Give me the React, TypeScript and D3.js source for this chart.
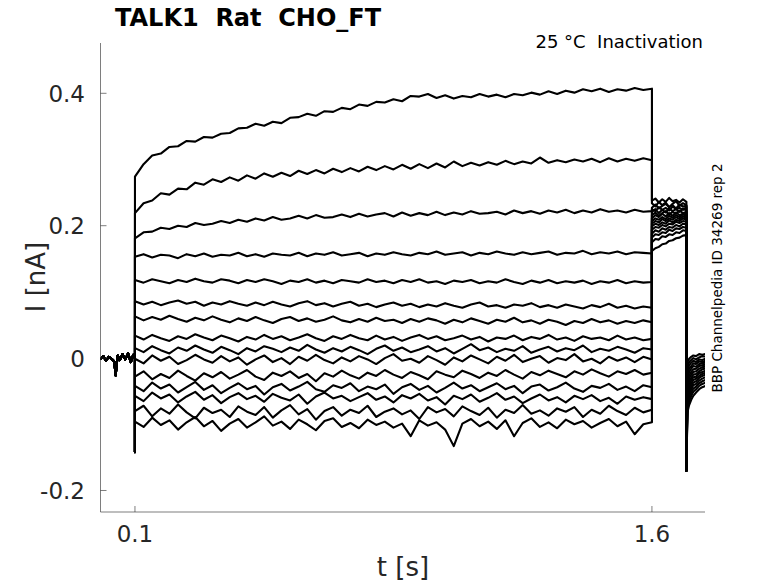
import { useEffect } from 'react';
import * as d3 from 'd3';

// all currents in pA, times in s
const preT = [0, 0.008, 0.016, 0.024, 0.032, 0.04, 0.044, 0.047, 0.05, 0.056, 0.064, 0.072, 0.08, 0.088, 0.095, 0.1];
const preI = [-2, 3, -4, 2, -1, -5, -26, -9, 4, -3, 6, -2, 7, -6, 5, 1];

const onsetDip = -142;
const offsetDip = -170;

const stepT = [
  0.1, 0.125, 0.15, 0.175, 0.2, 0.225, 0.25, 0.275, 0.3, 0.325,
  0.35, 0.375, 0.4, 0.425, 0.45, 0.475, 0.5, 0.525, 0.55, 0.575,
  0.6, 0.625, 0.65, 0.675, 0.7, 0.725, 0.75, 0.775, 0.8, 0.825,
  0.85, 0.875, 0.9, 0.925, 0.95, 0.975, 1.0, 1.025, 1.05, 1.075,
  1.1, 1.125, 1.15, 1.175, 1.2, 1.225, 1.25, 1.275, 1.3, 1.325,
  1.35, 1.375, 1.4, 1.425, 1.45, 1.475, 1.5, 1.525, 1.55, 1.575,
  1.6,
];

const stepI: number[][] = [
  [274, 293, 306, 309, 319, 320, 328, 327, 334, 333, 339, 340, 347, 348, 354, 351, 357, 355, 363, 364, 369, 366, 373, 372, 378, 376, 383, 381, 387, 386, 391, 388, 396, 395, 399, 393, 397, 392, 396, 394, 399, 395, 398, 394, 399, 397, 401, 398, 403, 399, 404, 401, 406, 403, 407, 402, 406, 404, 408, 405, 407],
  [219, 234, 238, 249, 247, 256, 255, 265, 262, 270, 266, 273, 268, 276, 271, 279, 274, 280, 275, 283, 278, 284, 279, 286, 281, 287, 282, 289, 284, 290, 285, 292, 286, 293, 287, 294, 288, 297, 290, 295, 291, 296, 292, 298, 293, 297, 294, 303, 295, 299, 296, 300, 297, 301, 296, 302, 297, 301, 298, 302, 299],
  [181, 190, 191, 197, 195, 200, 198, 204, 201, 203, 207, 204, 209, 206, 211, 208, 213, 209, 211, 215, 211, 216, 212, 213, 217, 213, 218, 214, 217, 219, 214, 220, 215, 219, 216, 221, 216, 220, 217, 222, 218, 219, 221, 217, 223, 219, 222, 218, 223, 220, 224, 219, 223, 220, 225, 221, 223, 220, 224, 221, 222],
  [153, 157, 152, 156, 155, 151, 157, 154, 158, 153, 156, 155, 159, 154, 157, 153, 158, 156, 155, 159, 154, 158, 156, 160, 155, 157, 159, 154, 158, 156, 160, 157, 155, 159, 157, 161, 156, 158, 160, 155, 159, 157, 161, 158, 156, 160, 157, 159, 161, 156, 159, 158, 162, 157, 160, 158, 161, 157, 160, 159, 158],
  [118, 114, 119, 116, 113, 118, 115, 120, 116, 114, 119, 117, 113, 118, 115, 119, 116, 112, 117, 115, 119, 114, 117, 113, 118, 116, 114, 119, 115, 117, 113, 118, 115, 119, 114, 116, 112, 117, 115, 118, 113, 116, 114, 119, 115, 112, 117, 114, 118, 113, 116, 114, 117, 112, 116, 114, 118, 113, 116, 114, 115],
  [86, 81, 85, 80, 84, 87, 82, 85, 79, 84, 81, 86, 82, 79, 84, 80, 85, 81, 78, 83, 86, 80, 83, 78, 82, 85, 79, 82, 77, 81, 84, 79, 82, 77, 81, 78, 83, 79, 76, 81, 84, 78, 80, 76, 81, 79, 83, 77, 80, 76, 81, 78, 75, 80, 77, 82, 76, 79, 75, 78, 76],
  [63, 57, 62, 58, 64, 59, 55, 61, 57, 63, 58, 54, 60, 56, 62, 57, 53, 59, 62, 56, 60, 55, 58, 63, 57, 54, 59, 55, 61, 56, 58, 53, 59, 55, 60, 57, 52, 58, 54, 60, 56, 52, 58, 55, 61, 54, 57, 52, 58, 55, 50, 56, 53, 59, 54, 57, 52, 56, 53, 57, 54],
  [34, 28, 35, 30, 26, 33, 29, 36, 31, 27, 34, 30, 25, 32, 28, 35, 29, 33, 27, 31, 36, 30, 26, 33, 29, 35, 30, 27, 34, 28, 32, 26, 31, 35, 29, 33, 27, 30, 34, 28, 32, 25, 31, 29, 34, 27, 32, 29, 35, 28, 31, 26, 33, 29, 31, 27, 34, 28, 31, 27, 29],
  [15, 9, 18, 12, 7, 16, 11, 19, 13, 8, 17, 12, 6, 15, 10, 18, 14, 9, 16, 11, 20, 13, 8, 15, 10, 17, 12, 6, 14, 19, 11, 16, 9, 13, 18, 10, 15, 7, 14, 21, 12, 16, 9, 14, 11, 18, 8, 13, 17, 10, 15, 12, 19, 9, 14, 11, 17, 13, 8, 15, 13],
  [-1, -8, 4, -4, 2, -9, -3, 5, -2, -7, 3, -5, 1, -10, -2, 4, -6, 0, -9, 2, -4, 5, -3, -8, 1, -5, 3, -2, -9, 0, 6, -4, -1, -7, 3, -3, -10, 1, -5, 4, -2, -8, 2, -4, 5, -6, -1, 3, -7, 0, -3, 6, -5, -1, -8, 2, -4, 1, -6, 2, -2],
  [-28, -20, -32, -24, -30, -19, -27, -34, -23, -29, -21, -31, -25, -18, -28, -33, -22, -27, -20, -30, -24, -35, -23, -28, -19, -26, -31, -22, -27, -18, -25, -30, -21, -26, -32, -20, -25, -29, -19, -24, -30, -22, -27, -18, -25, -31, -21, -26, -19, -24, -29, -20, -25, -17, -23, -28, -20, -24, -18, -25, -22],
  [-42, -50, -37, -46, -40, -52, -44, -36, -48, -41, -53, -45, -38, -47, -42, -55, -44, -39, -49, -43, -36, -47, -51, -41, -45, -38, -50, -43, -47, -40, -54, -44, -39, -48, -42, -52, -45, -37, -46, -41, -50, -44, -38, -47, -42, -53, -43, -40, -49, -44, -37, -46, -51, -42, -45, -39, -48, -43, -50, -41, -44],
  [-57, -65, -52, -61, -55, -67, -58, -51, -63, -56, -68, -59, -53, -62, -57, -66, -54, -60, -64, -55, -69, -58, -52, -61, -57, -65, -59, -53, -63, -58, -67, -56, -61, -54, -64, -59, -70, -57, -62, -55, -66, -60, -53, -63, -58, -68, -61, -55, -64, -59, -67, -57, -62, -56, -65, -60, -69, -58, -63, -59, -62],
  [-80, -72, -88, -76, -84, -70, -82, -91, -75, -83, -78, -89, -73, -81, -86, -74, -90, -79, -71, -85, -77, -93, -80, -74, -87, -78, -83, -72, -89, -81, -76, -85, -79, -92, -74, -82, -77, -88, -73, -80, -86, -75, -90, -78, -83, -71, -84, -79, -87, -76, -81, -74, -89, -78, -84, -72, -80, -86, -75, -82, -78],
  [-96, -104, -90, -101, -94, -108, -97, -89, -103, -95, -110, -99, -92, -105, -97, -88, -102, -96, -107, -93, -100, -109, -95, -91, -104, -98, -106, -93, -101, -96, -105, -99, -118, -94, -102, -97, -108, -133, -99, -92, -103, -96, -107, -94, -118, -98, -91, -104, -97, -106, -93, -100, -95, -105, -98, -92, -103, -96, -115, -100, -97],
];

const tailT = [1.6, 1.61, 1.62, 1.63, 1.64, 1.65, 1.66, 1.67, 1.68, 1.69, 1.7];
const tailI: number[][] = [
  [234, 229, 236, 231, 235, 228, 233, 237, 230, 234, 231],
  [238, 241, 235, 240, 236, 242, 237, 239, 235, 240, 236],
  [227, 232, 226, 230, 233, 228, 231, 226, 232, 229, 230],
  [225, 222, 228, 224, 227, 223, 229, 225, 227, 224, 228],
  [221, 225, 219, 224, 220, 226, 222, 225, 221, 226, 223],
  [216, 220, 215, 219, 222, 217, 221, 218, 223, 219, 221],
  [211, 216, 213, 218, 214, 219, 215, 220, 216, 218, 217],
  [207, 211, 209, 213, 210, 215, 212, 216, 213, 217, 214],
  [203, 207, 205, 210, 207, 211, 209, 213, 210, 214, 212],
  [199, 203, 201, 205, 203, 208, 205, 209, 207, 211, 209],
  [194, 198, 197, 201, 199, 203, 202, 206, 204, 207, 206],
  [188, 193, 191, 196, 194, 198, 197, 201, 199, 203, 202],
  [182, 187, 186, 190, 189, 194, 192, 196, 195, 198, 197],
  [175, 180, 179, 184, 183, 187, 186, 190, 189, 193, 192],
  [162, 166, 168, 172, 173, 177, 178, 181, 182, 185, 186],
];

const recT = [1.703, 1.708, 1.714, 1.72, 1.728, 1.737, 1.746, 1.76];
const recI: number[][] = [
  [-12, -6, -3, 0, -2, 1, 3, 2],
  [-6, -1, 2, 4, 3, 6, 5, 7],
  [-18, -11, -7, -4, -6, -2, -3, 0],
  [-24, -16, -12, -8, -9, -5, -6, -3],
  [-29, -21, -16, -12, -13, -9, -8, -6],
  [-34, -26, -21, -17, -16, -12, -11, -9],
  [-39, -31, -25, -21, -20, -16, -14, -12],
  [-44, -35, -30, -25, -24, -20, -17, -15],
  [-49, -40, -34, -29, -28, -23, -21, -18],
  [-54, -45, -38, -33, -31, -27, -24, -21],
  [-59, -49, -43, -37, -35, -30, -27, -24],
  [-64, -54, -47, -41, -39, -34, -31, -28],
  [-69, -59, -52, -46, -43, -38, -35, -32],
  [-75, -65, -57, -51, -47, -42, -39, -36],
  [-82, -71, -63, -57, -52, -47, -44, -41],
];

const xTicks = [0.1, 1.6];
const xTickLabels = ['0.1', '1.6'];
const yTicks = [-0.2, 0, 0.2, 0.4];
const yTickLabels = ['-0.2', '0', '0.2', '0.4'];

const W = 778;
const H = 583;
const plot = { left: 100.5, right: 705, top: 43, bottom: 512 };
const font = '"DejaVu Sans", sans-serif';
const axisColor = '#262626';

const App = () => {
  useEffect(() => {
    document.body.style.margin = '0';
  }, []);

  const x = d3.scaleLinear().domain([0, 1.754]).range([plot.left, plot.right]);
  const y = d3.scaleLinear().domain([-0.2325, 0.476]).range([plot.bottom, plot.top]);

  const line = d3.line<[number, number]>()
    .x(d => x(d[0]))
    .y(d => y(d[1] / 1000));

  // one sweep = holding, onset transient, step, tail, offset transient, recovery
  const traces = stepI.map((vals, k) => {
    const pts: [number, number][] = [];
    preT.forEach((t, i) => pts.push([t, preI[i]]));
    pts.push([0.1, onsetDip]);
    stepT.forEach((t, i) => pts.push([t, vals[i]]));
    tailT.forEach((t, i) => pts.push([t, tailI[k][i]]));
    pts.push([1.7, offsetDip]);
    recT.forEach((t, i) => pts.push([t, recI[k][i]]));
    return line(pts) || '';
  });

  return (
    <svg width={W} height={H} style={{ display: 'block', background: '#fff' }} fontFamily={font}>
      <defs>
        <clipPath id="plotClip">
          <rect x={plot.left} y={plot.top} width={plot.right - plot.left} height={plot.bottom - plot.top} />
        </clipPath>
      </defs>

      <g clipPath="url(#plotClip)">
        {traces.map((d, i) => (
          <path key={i} d={d} fill="none" stroke="#000" strokeWidth={2.1} strokeLinejoin="round" />
        ))}
      </g>

      {/* axes */}
      <line x1={plot.left} x2={plot.left} y1={plot.top} y2={plot.bottom} stroke={axisColor} strokeWidth={0.6} />
      <line x1={plot.left} x2={plot.right} y1={plot.bottom} y2={plot.bottom} stroke={axisColor} strokeWidth={0.6} />

      {yTicks.map((t, i) => (
        <g key={t}>
          <line x1={plot.left} x2={plot.left + 6} y1={y(t)} y2={y(t)} stroke={axisColor} strokeWidth={0.6} />
          <text x={85} y={y(t) + 8.5} textAnchor="end" fontSize={23} fill={axisColor}>
            {yTickLabels[i]}
          </text>
        </g>
      ))}
      {xTicks.map((t, i) => (
        <g key={t}>
          <line x1={x(t)} x2={x(t)} y1={plot.bottom} y2={plot.bottom - 6} stroke={axisColor} strokeWidth={0.6} />
          <text x={x(t)} y={542} textAnchor="middle" fontSize={23} fill={axisColor}>
            {xTickLabels[i]}
          </text>
        </g>
      ))}

      <text x={403} y={576} textAnchor="middle" fontSize={26} fill={axisColor}>t [s]</text>
      <text transform="translate(45,277) rotate(-90)" textAnchor="middle" fontSize={26} fill={axisColor}>I [nA]</text>

      <text x={115} y={26} fontSize={24} fontWeight="bold" fill="#000" style={{ whiteSpace: 'pre' }}>
        TALK1  Rat  CHO_FT
      </text>
      <text x={703} y={48} textAnchor="end" fontSize={18} fill="#000" style={{ whiteSpace: 'pre' }}>
        25 °C  Inactivation
      </text>
      <text transform="translate(722,278) rotate(-90)" textAnchor="middle" fontSize={13.5} fill="#000">
        BBP Channelpedia ID 34269 rep 2
      </text>
    </svg>
  );
};

export default App;
